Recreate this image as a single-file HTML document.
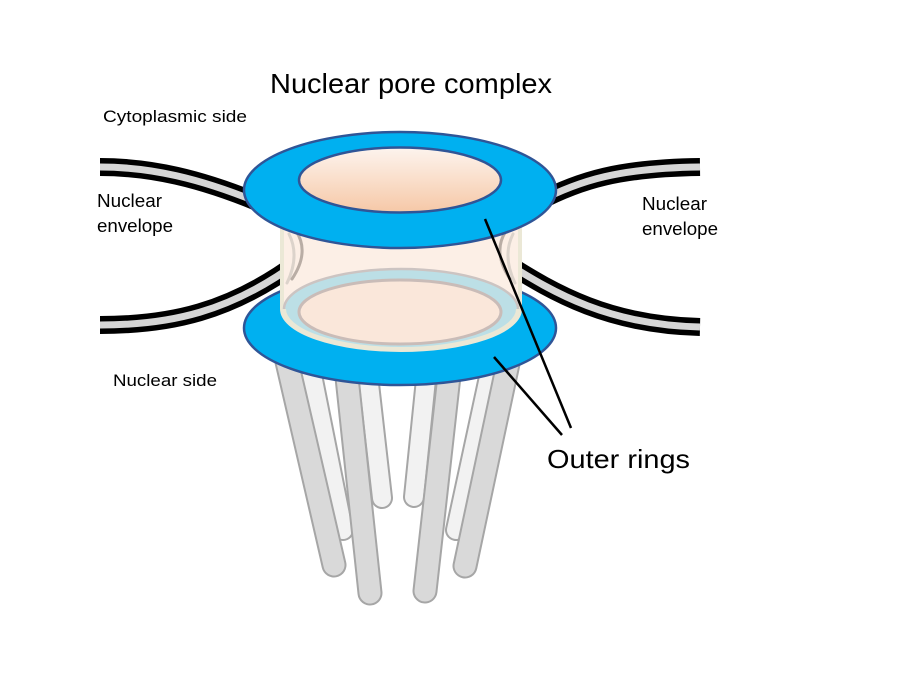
<!DOCTYPE html>
<html>
<head>
<meta charset="utf-8">
<style>
html,body{margin:0;padding:0;background:#fff;}
svg{display:block;}
text{font-family:"Liberation Sans",sans-serif;fill:#000;}
</style>
</head>
<body>
<svg width="900" height="675" viewBox="0 0 900 675" xmlns="http://www.w3.org/2000/svg">
<defs>
<linearGradient id="peach" x1="0" y1="0" x2="0" y2="1">
<stop offset="0" stop-color="#fdf4ee"/>
<stop offset="1" stop-color="#f6c8a7"/>
</linearGradient>
</defs>

<!-- light rods -->
<g stroke-linecap="round" fill="none">
<g stroke="#a6a6a6" stroke-width="22">
<line x1="305" y1="340" x2="343" y2="530"/>
<line x1="364" y1="340" x2="382" y2="498"/>
<line x1="430" y1="340" x2="414" y2="497"/>
<line x1="497" y1="340" x2="456" y2="530"/>
</g>
<g stroke="#f2f2f2" stroke-width="18">
<line x1="305" y1="340" x2="343" y2="530"/>
<line x1="364" y1="340" x2="382" y2="498"/>
<line x1="430" y1="340" x2="414" y2="497"/>
<line x1="497" y1="340" x2="456" y2="530"/>
</g>
<!-- dark rods -->
<g stroke="#a6a6a6" stroke-width="25">
<line x1="282" y1="340" x2="334" y2="565"/>
<line x1="343" y1="340" x2="370" y2="593"/>
<line x1="453" y1="340" x2="425" y2="591"/>
<line x1="513" y1="340" x2="465" y2="566"/>
</g>
<g stroke="#d9d9d9" stroke-width="21">
<line x1="282" y1="340" x2="334" y2="565"/>
<line x1="343" y1="340" x2="370" y2="593"/>
<line x1="453" y1="340" x2="425" y2="591"/>
<line x1="513" y1="340" x2="465" y2="566"/>
</g>
</g>

<!-- bottom ring -->
<ellipse cx="400" cy="328" rx="156" ry="57" fill="#00b0f0" stroke="#2f5597" stroke-width="2.5"/>

<!-- membranes -->
<g fill="none">
<g stroke="#000" stroke-width="18">
<path d="M100,167 C150,167 200,178 262,204"/>
<path d="M100,325 C170,325 230,312 298,262"/>
<path d="M700,167 C620,168 580,180 538,202"/>
<path d="M700,327 C610,325 555,294 505,262"/>
</g>
<g stroke="#d6d6d6" stroke-width="7">
<path d="M100,167 C150,167 200,178 262,204"/>
<path d="M100,325 C170,325 230,312 298,262"/>
<path d="M700,167 C620,168 580,180 538,202"/>
<path d="M700,327 C610,325 555,294 505,262"/>
</g>
</g>

<!-- cylinder -->
<path d="M282,225 L282,309 A119,41 0 0 0 520,309 L520,225 Z" fill="#fcefe6" stroke="#ebe8d6" stroke-width="4"/>
<!-- arcs seen through -->
<g fill="none" stroke-linecap="round">
<path d="M289,234 Q300,256 287,283" stroke="#dcd3cb" stroke-width="3"/>
<path d="M296,231 Q310,252 292,279" stroke="#b9ada5" stroke-width="3"/>
<path d="M513,234 Q502,256 515,283" stroke="#dcd3cb" stroke-width="3"/>
<path d="M506,231 Q492,252 510,279" stroke="#b9ada5" stroke-width="3"/>
</g>
<ellipse cx="401" cy="309" rx="117" ry="40" fill="#bcdfe6" stroke="#ccc4c2" stroke-width="2.5"/>
<path d="M284,309 A117,40 0 0 0 518,309" fill="none" stroke="#ebe8d6" stroke-width="4"/>
<ellipse cx="400" cy="312" rx="101" ry="32" fill="#fae7da" stroke="#c9bcb8" stroke-width="3"/>

<!-- top ring -->
<ellipse cx="400" cy="190" rx="156" ry="58" fill="#00b0f0" stroke="#2f5597" stroke-width="2.5"/>
<ellipse cx="400" cy="180" rx="101" ry="32.5" fill="url(#peach)" stroke="#2f5597" stroke-width="2.5"/>

<!-- callout lines -->
<g stroke="#000" stroke-width="2.5">
<line x1="485" y1="219" x2="571" y2="428"/>
<line x1="494" y1="357" x2="562" y2="435"/>
</g>

<!-- text -->
<text x="270" y="93" font-size="28" textLength="282" lengthAdjust="spacingAndGlyphs">Nuclear pore complex</text>
<text x="103" y="122" font-size="17" textLength="144" lengthAdjust="spacingAndGlyphs">Cytoplasmic side</text>
<text x="97" y="207" font-size="18" textLength="65" lengthAdjust="spacingAndGlyphs">Nuclear</text>
<text x="97" y="232" font-size="18" textLength="76" lengthAdjust="spacingAndGlyphs">envelope</text>
<text x="642" y="210" font-size="18" textLength="65" lengthAdjust="spacingAndGlyphs">Nuclear</text>
<text x="642" y="235" font-size="18" textLength="76" lengthAdjust="spacingAndGlyphs">envelope</text>
<text x="113" y="386" font-size="17" textLength="104" lengthAdjust="spacingAndGlyphs">Nuclear side</text>
<text x="547" y="468" font-size="26" textLength="143" lengthAdjust="spacingAndGlyphs">Outer rings</text>
</svg>
</body>
</html>
